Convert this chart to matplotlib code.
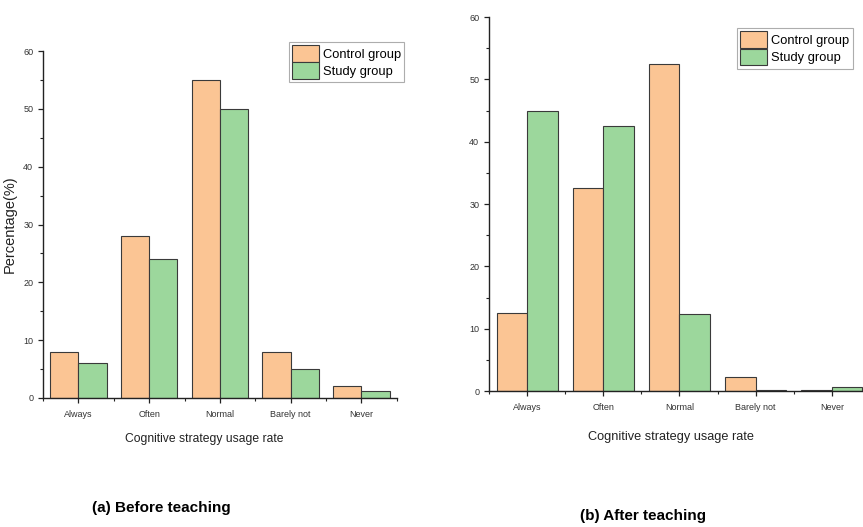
import numpy as np
import matplotlib
matplotlib.use("Agg")
import matplotlib.pyplot as plt
from matplotlib.ticker import MultipleLocator

plt.rcParams["font.family"] = ["Liberation Sans", "DejaVu Sans"]

categories = ["Always", "Often", "Normal", "Barely not", "Never"]

# (a) before teaching
before_control = [8, 28, 55, 8, 2]
before_study = [6, 24, 50, 5, 1.2]

# (b) after teaching
after_control = [12.5, 32.5, 52.5, 2.3, 0.15]
after_study = [45, 42.5, 12.3, 0.1, 0.6]

C_CONTROL = "#fbc594"
C_STUDY = "#9cd79c"
EDGE = "#3a3a3a"


def draw_panel(ax, control, study, xlabel_size, xlabel_xy):
    x = np.arange(len(categories))
    w = 0.4
    ax.bar(x - w / 2, control, w, color=C_CONTROL, edgecolor=EDGE, linewidth=0.8,
           label="Control group")
    ax.bar(x + w / 2, study, w, color=C_STUDY, edgecolor=EDGE, linewidth=0.8,
           label="Study group")
    ax.set_xlim(-0.5, 4.5)
    ax.set_ylim(0, 60)
    ax.set_xticks(x)
    ax.set_xticklabels(categories)
    ax.xaxis.set_minor_locator(MultipleLocator(0.5))
    ax.yaxis.set_major_locator(MultipleLocator(10))
    ax.yaxis.set_minor_locator(MultipleLocator(5))
    ax.tick_params(which="major", direction="out", length=3.5, width=0.9, labelsize=6.5,
                   colors="#222222", labelcolor="#333333")
    ax.tick_params(axis="x", which="major", pad=5)
    ax.tick_params(which="minor", direction="out", length=2, width=0.8, colors="#222222")
    for s in ("top", "right"):
        ax.spines[s].set_visible(False)
    for s in ("left", "bottom"):
        ax.spines[s].set_linewidth(1.0)
        ax.spines[s].set_color("#222222")
    ax.set_xlabel("Cognitive strategy usage rate", fontsize=xlabel_size, color="#222222")
    ax.xaxis.set_label_coords(*xlabel_xy)


def add_legend(ax, anchor):
    leg = ax.legend(loc="upper left", bbox_to_anchor=anchor, fontsize=9.3,
                    frameon=True, fancybox=False, edgecolor="#999999",
                    handlelength=2.1, handleheight=1.6, handletextpad=0.3,
                    borderpad=0.25, labelspacing=0.05, borderaxespad=0)
    leg.get_frame().set_linewidth(0.8)
    return leg


fig = plt.figure(figsize=(8.63, 5.27), dpi=100)

ax1 = fig.add_axes([0.0498, 0.2448, 0.410, 0.6584])
draw_panel(ax1, before_control, before_study, 8.7, (0.455, -0.101))
ax1.set_ylabel("Percentage(%)", fontsize=10.5, color="#222222")
ax1.yaxis.set_label_coords(-0.073, 0.5)
add_legend(ax1, (0.695, 1.026))

ax2 = fig.add_axes([0.5666, 0.258, 0.4415, 0.7097])
draw_panel(ax2, after_control, after_study, 9.2, (0.478, -0.107))
add_legend(ax2, (0.651, 0.97))

fig.text(0.187, 0.036, "(a) Before teaching", fontsize=11, fontweight="bold",
         ha="center", va="center")
fig.text(0.745, 0.021, "(b) After teaching", fontsize=11, fontweight="bold",
         ha="center", va="center")

fig.savefig("out.png", dpi=100)
